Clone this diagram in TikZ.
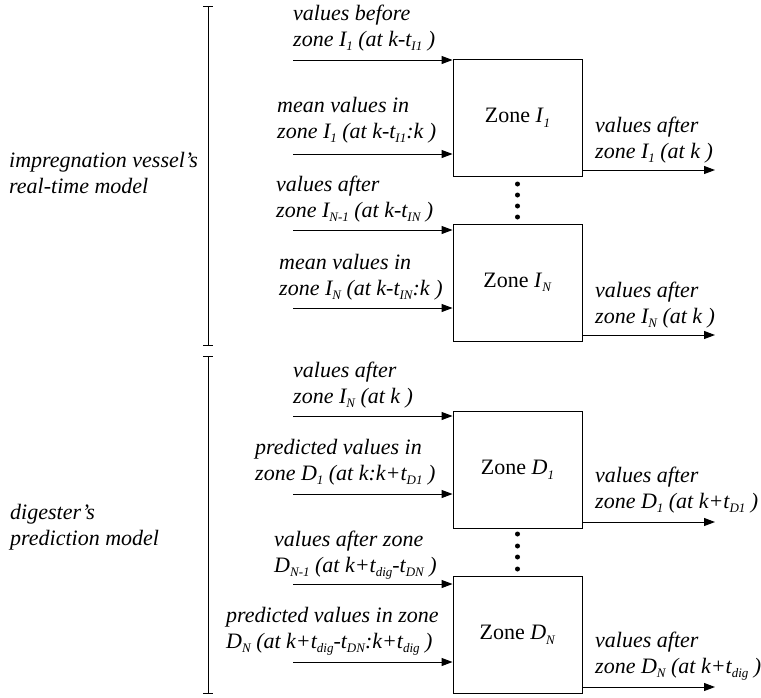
\documentclass[tikz,border=0pt]{standalone}
\usepackage{fontspec}
\setmainfont{Liberation Serif}
\usetikzlibrary{arrows.meta}
\newcommand{\lo}[1]{\raisebox{-4.5pt}{\fontsize{13}{13}\selectfont #1}}
\begin{document}
\begin{tikzpicture}[x=1pt,y=-1pt,
  zone/.style={draw, line width=0.9pt, minimum width=129pt, minimum height=117pt,
    inner sep=0pt, font=\fontsize{22}{26}\selectfont},
  lbl/.style={anchor=base west, align=left, inner sep=0pt,
    font=\fontsize{22}{26}\selectfont\itshape},
  flow/.style={line width=1pt, -{Triangle[length=11pt,width=8pt]}},
  brace/.style={line width=1pt},
  dotmark/.style={circle, fill, inner sep=0pt, minimum size=5pt}]
\useasboundingbox (0,0) rectangle (761,697);

% zone blocks
\node[zone] (I1) at (517.5,118)   {Zone \textit{I}\lo{\textit{1}}};
\node[zone] (IN) at (517.5,282.5) {Zone \textit{I}\lo{\textit{N}}};
\node[zone] (D1) at (517.5,470)   {Zone \textit{D}\lo{\textit{1}}};
\node[zone] (DN) at (517.5,635)   {Zone \textit{D}\lo{\textit{N}}};

% vertical ellipses between zones
\foreach \y [count=\i] in {184,195,206,217} \node[dotmark] (di\i) at (517.5,\y) {};
\foreach \y [count=\i] in {534,546,557,569} \node[dotmark] (dd\i) at (517.5,\y) {};

% input arrows
\coordinate (a1) at (293,60);
\coordinate (a2) at (293,154);
\coordinate (a3) at (293,230);
\coordinate (a4) at (293,308);
\coordinate (a5) at (293,416);
\coordinate (a6) at (293,494);
\coordinate (a7) at (293,584);
\coordinate (a8) at (293,662);
\draw[flow] (a1) -- (a1 -| I1.west);
\draw[flow] (a2) -- (a2 -| I1.west);
\draw[flow] (a3) -- (a3 -| IN.west);
\draw[flow] (a4) -- (a4 -| IN.west);
\draw[flow] (a5) -- (a5 -| D1.west);
\draw[flow] (a6) -- (a6 -| D1.west);
\draw[flow] (a7) -- (a7 -| DN.west);
\draw[flow] (a8) -- (a8 -| DN.west);

% output arrows
\coordinate (b1) at (715,170);
\coordinate (b2) at (715,335);
\coordinate (b3) at (715,522);
\coordinate (b4) at (715,687);
\draw[flow] (b1 -| I1.east) -- (b1);
\draw[flow] (b2 -| IN.east) -- (b2);
\draw[flow] (b3 -| D1.east) -- (b3);
\draw[flow] (b4 -| DN.east) -- (b4);

% input labels (anchored at the baseline of their last line)
\node[lbl] (l1) at (293,46)  {values before\\zone \textit{I}\lo{1} (at k-t\lo{I1} )};
\node[lbl] (l2) at (277,138) {mean values in\\zone \textit{I}\lo{1} (at k-t\lo{I1}:k )};
\node[lbl] (l3) at (276,217) {values after\\zone \textit{I}\lo{N-1} (at k-t\lo{IN} )};
\node[lbl] (l4) at (279,295) {mean values in\\zone \textit{I}\lo{N} (at k-t\lo{IN}:k )};
\node[lbl] (l5) at (293,403) {values after\\zone \textit{I}\lo{N} (at k )};
\node[lbl] (l6) at (255,480) {predicted values in\\zone \textit{D}\lo{1} (at k:k+t\lo{D1} )};
\node[lbl] (l7) at (274,572) {values after zone\\\textit{D}\lo{N-1} (at k+t\lo{dig}-t\lo{DN} )};
\node[lbl] (l8) at (226,648) {predicted values in zone\\\textit{D}\lo{N} (at k+t\lo{dig}-t\lo{DN}:k+t\lo{dig} )};

% output labels
\node[lbl] (o1) at (595,158) {values after\\zone \textit{I}\lo{1} (at k )};
\node[lbl] (o2) at (595,323) {values after\\zone \textit{I}\lo{N} (at k )};
\node[lbl] (o3) at (595,508) {values after\\zone \textit{D}\lo{1} (at k+t\lo{D1} )};
\node[lbl] (o4) at (595,673) {values after\\zone \textit{D}\lo{N} (at k+t\lo{dig} )};

% model ranges
\node[lbl] (m1) at (9,193)  {impregnation vessel's\\real-time model};
\node[lbl] (m2) at (10,545) {digester's\\prediction model};
\coordinate (r1t) at (208,6);
\coordinate (r1b) at (208,345);
\coordinate (r2t) at (208,356);
\coordinate (r2b) at (208,693);
\draw[brace] (r1t) -- (r1b);
\draw[brace] ([xshift=-5pt]r1t) -- ([xshift=5pt]r1t);
\draw[brace] ([xshift=-5pt]r1b) -- ([xshift=5pt]r1b);
\draw[brace] (r2t) -- (r2b);
\draw[brace] ([xshift=-5pt]r2t) -- ([xshift=5pt]r2t);
\draw[brace] ([xshift=-5pt]r2b) -- ([xshift=5pt]r2b);
\end{tikzpicture}
\end{document}
